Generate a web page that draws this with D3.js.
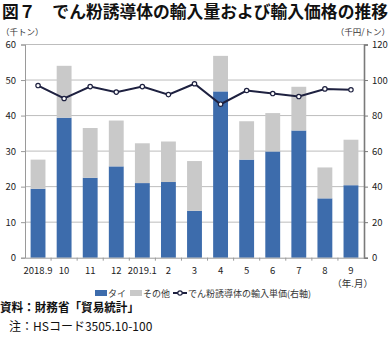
<!DOCTYPE html>
<html><head><meta charset="utf-8">
<script src="https://cdn.jsdelivr.net/npm/d3@7"></script>
<style>
html,body{margin:0;padding:0;background:#fff;}
svg{display:block;font-family:"Noto Sans CJK JP","Noto Sans",sans-serif;}
</style></head>
<body>
<svg id="c" width="391" height="337"></svg>
<script>
const categories = ["2018.9","10","11","12","2019.1","2","3","4","5","6","7","8","9"];
const thai =  [19.4, 39.4, 22.5, 25.7, 21.0, 21.3, 13.2, 46.8, 27.6, 29.9, 35.8, 16.7, 20.4];
const total = [27.6, 54.0, 36.5, 38.6, 32.2, 32.7, 27.2, 56.8, 38.4, 40.7, 48.1, 25.4, 33.2];
const other = total.map((t,i)=> +(t - thai[i]).toFixed(1));
const unitPrice = [96.9, 89.6, 96.3, 93.2, 96.3, 91.8, 97.9, 86.4, 94.1, 92.4, 90.7, 95.0, 94.5];
const leftTicks = [0,10,20,30,40,50,60];
const rightTicks = [0,20,40,60,80,100,120];

const svg = d3.select("#c");
const L = 25, R = 364, T = 44.5, B = 257.7;
const x = d3.scaleBand().domain(categories).range([L,R]).paddingInner(0.43).paddingOuter(0.215);
const yL = d3.scaleLinear().domain([0,60]).range([B,T]);
const yR = d3.scaleLinear().domain([0,120]).range([B,T]);
const blue = "#3d6cac", gray = "#c9c9c9", lineC = "#1e2140";

// title
svg.append("text").attr("x",2).attr("y",18).attr("font-size",16.5).attr("font-weight","bold")
  .attr("fill","#111").attr("textLength",386).attr("lengthAdjust","spacingAndGlyphs")
  .text("図７　でん粉誘導体の輸入量および輸入価格の推移");

// unit labels
svg.append("text").attr("x",1).attr("y",35).attr("font-size",8.5).attr("fill","#333").text("（千トン）");
svg.append("text").attr("x",390).attr("y",35).attr("font-size",8.5).attr("fill","#333").attr("text-anchor","end").text("（千円/トン）");

// gridlines
svg.append("g").selectAll("line").data(leftTicks.filter(d=>d>0)).join("line")
  .attr("x1",L).attr("x2",R).attr("y1",d=>yL(d)).attr("y2",d=>yL(d))
  .attr("stroke","#bdbdbd").attr("stroke-width",1);

// bars
const g = svg.append("g");
g.selectAll("rect.thai").data(categories).join("rect").attr("class","thai")
  .attr("x",d=>x(d)).attr("width",x.bandwidth())
  .attr("y",(d,i)=>yL(thai[i])).attr("height",(d,i)=>yL(0)-yL(thai[i])).attr("fill",blue);
g.selectAll("rect.other").data(categories).join("rect").attr("class","other")
  .attr("x",d=>x(d)).attr("width",x.bandwidth())
  .attr("y",(d,i)=>yL(thai[i]+other[i])).attr("height",(d,i)=>yL(thai[i])-yL(thai[i]+other[i])).attr("fill",gray);

// left axis
const la = svg.append("g").attr("transform",`translate(${L},0)`)
  .call(d3.axisLeft(yL).tickValues(leftTicks).tickSize(4).tickPadding(5));
la.select(".domain").attr("stroke","#9a9a9a");
la.selectAll(".tick line").attr("stroke","#9a9a9a");
la.selectAll(".tick text").attr("font-size",9.5).attr("fill","#222").attr("font-family","'Noto Sans CJK JP',sans-serif");

// right axis
const ra = svg.append("g").attr("transform",`translate(${R},0)`)
  .call(d3.axisRight(yR).tickValues(rightTicks).tickSize(4).tickPadding(4));
ra.select(".domain").attr("stroke","#7a7a7a").attr("stroke-width",1.6);
ra.selectAll(".tick line").attr("stroke","#7a7a7a");
ra.selectAll(".tick text").attr("font-size",9.5).attr("fill","#222").attr("font-family","'Noto Sans CJK JP',sans-serif");

// x axis
const xa = svg.append("g").attr("transform",`translate(0,${B})`)
  .call(d3.axisBottom(x).tickSize(0).tickPadding(10));
xa.select(".domain").attr("stroke","#9a9a9a");
xa.selectAll(".tick text").attr("font-size",9.5).attr("fill","#222").attr("font-family","'Noto Sans CJK JP',sans-serif");
// tick marks between categories
svg.append("g").selectAll("line").data(categories.slice(1)).join("line")
  .attr("x1",d=>x(d)-x.step()*x.paddingInner()/2).attr("x2",d=>x(d)-x.step()*x.paddingInner()/2)
  .attr("y1",B).attr("y2",B+3).attr("stroke","#9a9a9a");

svg.append("text").attr("x",373).attr("y",287).attr("font-size",9.5).attr("fill","#333")
  .attr("text-anchor","end").text("（年.月）");

// line
const cx = (d)=>x(d)+x.bandwidth()/2;
const line = d3.line().x((d,i)=>cx(categories[i])).y(d=>yR(d));
svg.append("path").datum(unitPrice).attr("d",line).attr("fill","none").attr("stroke",lineC).attr("stroke-width",2);
svg.append("g").selectAll("circle").data(unitPrice).join("circle")
  .attr("cx",(d,i)=>cx(categories[i])).attr("cy",d=>yR(d)).attr("r",2.2)
  .attr("fill","#fff").attr("stroke",lineC).attr("stroke-width",1.2);

// legend
const ly = 293;
const lg = svg.append("g").attr("font-size",9).attr("fill","#333");
lg.append("rect").attr("x",95).attr("y",ly-3).attr("width",12).attr("height",6).attr("fill",blue);
lg.append("text").attr("x",108).attr("y",ly+3.5).text("タイ");
lg.append("rect").attr("x",130).attr("y",ly-3).attr("width",12).attr("height",6).attr("fill",gray);
lg.append("text").attr("x",143).attr("y",ly+3.5).text("その他");
lg.append("line").attr("x1",173).attr("x2",187).attr("y1",ly).attr("y2",ly).attr("stroke",lineC).attr("stroke-width",2);
lg.append("circle").attr("cx",180).attr("cy",ly).attr("r",2.2).attr("fill","#fff").attr("stroke",lineC).attr("stroke-width",1.2);
lg.append("text").attr("x",188).attr("y",ly+3.5).text("でん粉誘導体の輸入単価(右軸)");

// footer
svg.append("text").attr("x",0).attr("y",312).attr("font-size",12).attr("font-weight","bold").attr("fill","#111")
  .attr("textLength",139).attr("lengthAdjust","spacingAndGlyphs").text("資料：財務省「貿易統計」");
svg.append("text").attr("x",9).attr("y",331).attr("font-size",12).attr("fill","#111")
  .text("注：HSコード3505.10-100");
</script>
</body></html>
